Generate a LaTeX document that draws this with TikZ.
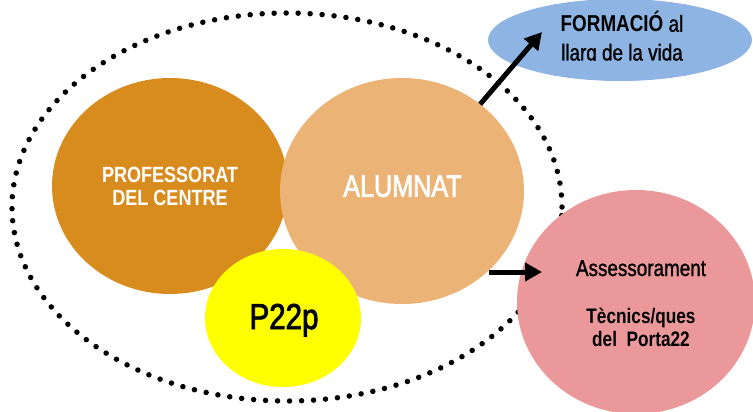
\documentclass[tikz,border=0pt]{standalone}
\usepackage{fontspec}
\setmainfont{Liberation Sans}[FakeStretch=0.82]
\newfontfamily\regf{Liberation Sans}[FakeStretch=0.82, FakeBold=2.2]
\newfontfamily\regs{Liberation Sans}[FakeStretch=0.82, FakeBold=1.1]
\usetikzlibrary{shapes.geometric,arrows.meta}
\definecolor{cprof}{RGB}{217,140,30}
\definecolor{calum}{RGB}{235,179,118}
\definecolor{cpink}{RGB}{234,152,153}
\definecolor{cblue}{RGB}{142,180,227}
\definecolor{cyel}{RGB}{255,255,0}
\tikzset{
  blob/.style={ellipse, inner sep=0pt, outer sep=0pt, draw=none},
  dotring/.style={ellipse, inner sep=0pt, draw=black, line width=5.5pt, line cap=round, dash pattern=on 0pt off 12pt},
  arr/.style={line width=5pt, -{Triangle[length=17pt,width=18pt]}},
  lbl/.style={anchor=base, inner sep=0pt},
}
\newcommand{\fsz}[1]{\fontsize{#1pt}{#1pt}\selectfont}
\begin{document}
\begin{tikzpicture}[x=1pt,y=-1pt]
\useasboundingbox (0,0) rectangle (753,412);
% dotted ring
\node[dotring, minimum width=550pt, minimum height=388pt] (ring) at (287,207) {};
% blobs
\node[blob, fill=cblue, minimum width=264pt, minimum height=82pt] (form) at (620,40) {};
\node[blob, fill=cprof, minimum width=236pt, minimum height=216pt] (prof) at (170,186) {};
\node[blob, fill=calum, minimum width=244pt, minimum height=226pt] (alum) at (402,191) {};
\node[blob, fill=cyel, minimum width=156pt, minimum height=138pt] (p22) at (283,318) {};
\node[blob, fill=cpink, minimum width=238pt, minimum height=224pt] (asse) at (636,302) {};
% texts
\node[lbl, text=white, font=\fsz{22}\bfseries] (proft1) at (170,182.3) {PROFESSORAT};
\node[lbl, text=white, font=\fsz{22}\bfseries] (proft2) at (170,205) {DEL CENTRE};
\node[lbl, text=white, font=\regf\fsz{30.7}] (alumt) at (402.5,196.7) {ALUMNAT};
\node[lbl, font=\regf\fsz{36}] (p22t) at (284,329) {P22p};
\node[lbl, font=\fsz{23}] (formt1) at (622,31.7) {\textbf{FORMACIÓ} {\regs al}};
\begin{scope}
\clip (480,0) rectangle (753,60.3);
\node[lbl, font=\regs\fsz{23}] (formt2) at (622,60.5) {llarg de la vida};
\end{scope}
\node[lbl, font=\regs\fsz{23}] (asset1) at (641,276) {Assessorament};
\node[lbl, font=\fsz{21}\bfseries] (asset2) at (641,323.3) {Tècnics/ques};
\node[lbl, font=\fsz{21}\bfseries] (asset3) at (641,346.7) {del\ \ Porta22};
% connectors
\coordinate (ftip) at (542,32);
\coordinate (atip) at (542,272);
\draw[arr] (alum.48) -- (ftip);
\draw[arr] (alum.-42 |- atip) -- (atip);
\end{tikzpicture}
\end{document}
